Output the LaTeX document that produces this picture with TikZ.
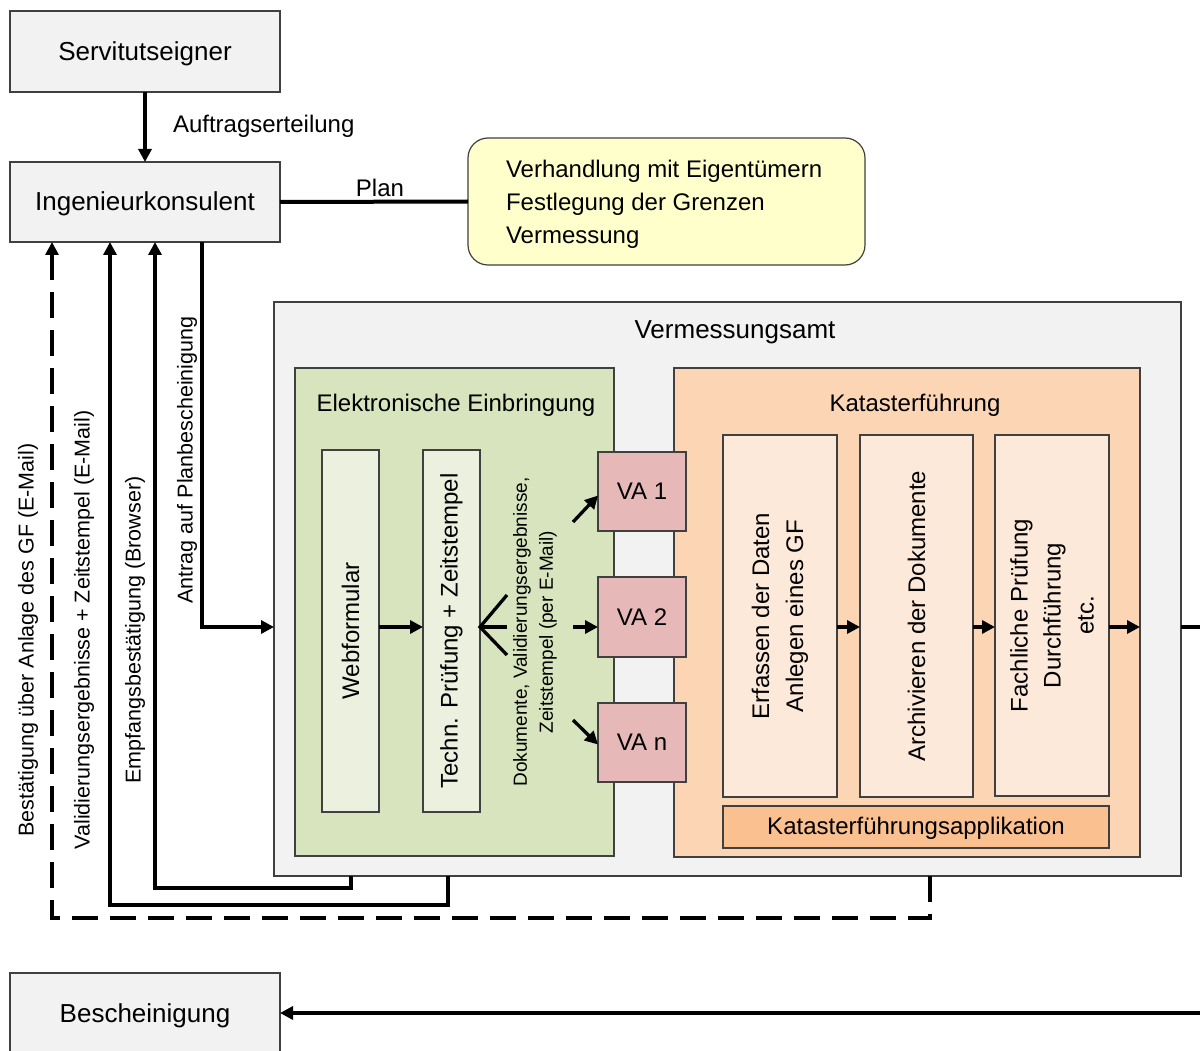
\documentclass[tikz,border=0pt]{standalone}
\usepackage{fontspec}
\setmainfont{Liberation Sans}
\usetikzlibrary{arrows.meta,calc}
\definecolor{bord}{HTML}{404040}
\definecolor{grayfill}{HTML}{F2F2F2}
\definecolor{yel}{HTML}{FFFFCC}
\definecolor{grn}{HTML}{D7E4BD}
\definecolor{grnl}{HTML}{EBF1DE}
\definecolor{org}{HTML}{FCD5B5}
\definecolor{orgl}{HTML}{FDE9D9}
\definecolor{orgd}{HTML}{FAC090}
\definecolor{vapink}{HTML}{E6B9B8}
\newcommand{\fsz}[2]{\fontsize{#1}{#2}\selectfont}
\begin{document}
\begin{tikzpicture}[x=1pt,y=-1pt,
  box/.style={draw=bord, line width=1.2pt, inner sep=0pt, outer sep=0pt, anchor=north west},
  lbl/.style={inner sep=0pt, outer sep=0pt, text=black},
  arr/.style={line width=3.3pt, -{Triangle[length=13pt,width=13pt]}},
  conn/.style={line width=3.3pt},
  dashline/.style={line width=3.3pt, dash pattern=on 26pt off 12pt},
  big/.style={font=\fsz{26}{31}},
  mid/.style={font=\fsz{24}{33}},
  vlab/.style={lbl, rotate=90, font=\fsz{21.5}{26}}
  ]
\useasboundingbox (0,0) rectangle (1200,1051);
\fill[white] (0,0) rectangle (1200,1051);

% top boxes
\node[box, fill=grayfill, minimum width=270pt, minimum height=81pt] (serv) at (10,11) {};
\node[lbl, big] at ($(serv.center)+(0,2.5)$) {Servitutseigner};
\node[box, fill=grayfill, minimum width=270pt, minimum height=80pt] (ing) at (10,162) {};
\node[lbl, big] at ($(ing.center)+(0,2)$) {Ingenieurkonsulent};
\node[box, fill=grayfill, minimum width=270pt, minimum height=90pt] (besch) at (10,973) {};
\node[lbl, big] at (145,1016) {Bescheinigung};

\draw[arr] (serv.south) -- (ing.north);
\node[lbl, anchor=west, mid] (auftr) at (173,126) {Auftragserteilung};

% yellow box
\node[box, fill=yel, rounded corners=20pt, minimum width=397pt, minimum height=127pt] (yb) at (468,138) {};
\node[lbl, anchor=west, align=left, mid] (ybt) at (506,204) {Verhandlung mit Eigentümern\\Festlegung der Grenzen\\Vermessung};
\draw[line width=4pt] (ing.east) -- (yb.west);
\node[lbl, anchor=base, mid] (plan) at (380,197) {Plan};

% Vermessungsamt
\node[box, fill=grayfill, minimum width=907pt, minimum height=574pt] (amt) at (274,302) {};
\node[lbl, big] (amtT) at (735,332) {Vermessungsamt};

% green
\node[box, fill=grn, minimum width=319pt, minimum height=488pt] (green) at (295,368) {};
\node[lbl, mid] (greenT) at (456,405) {Elektronische Einbringung};
\node[box, fill=grnl, minimum width=57pt, minimum height=362pt] (web) at (322,450) {};
\node[lbl, rotate=90, mid] at (web.center) {Webformular};
\node[box, fill=grnl, minimum width=57pt, minimum height=362pt] (tech) at (423,450) {};
\node[lbl, rotate=90, mid] at (tech.center) {Techn. Prüfung + Zeitstempel};

% orange
\node[box, fill=org, minimum width=466pt, minimum height=489pt] (org) at (674,368) {};
\node[lbl, mid] (orgT) at (915,405) {Katasterführung};
\node[box, fill=orgl, minimum width=114pt, minimum height=362pt] (erf) at (723,435) {};
\node[lbl, rotate=90, align=center, font=\fsz{24}{34}] at (erf.center) {Erfassen der Daten\\Anlegen eines GF};
\node[box, fill=orgl, minimum width=113pt, minimum height=362pt] (arc) at (860,435) {};
\node[lbl, rotate=90, mid] at (arc.center) {Archivieren der Dokumente};
\node[box, fill=orgl, minimum width=114pt, minimum height=361pt] (fach) at (995,435) {};
\node[lbl, rotate=90, align=center, mid] at (fach.center) {Fachliche Prüfung\\Durchführung\\etc.};
\node[box, fill=orgd, minimum width=386pt, minimum height=42pt] (kapp) at (723,806) {};
\node[lbl, mid] at ($(kapp.center)+(0,1.5)$) {Katasterführungsapplikation};

% VA boxes
\node[box, fill=vapink, minimum width=88pt, minimum height=79pt, mid] (va1) at (598,452) {VA 1};
\node[box, fill=vapink, minimum width=88pt, minimum height=80pt, mid] (va2) at (598,577) {VA 2};
\node[box, fill=vapink, minimum width=88pt, minimum height=79pt, mid] (van) at (598,703) {VA n};

\node[lbl, rotate=90, align=center, font=\fsz{19}{26}] (doktxt) at (535,632) {Dokumente, Validierungsergebnisse,\\Zeitstempel (per E-Mail)};

% helper coordinates
\coordinate (ay) at (0,627);
\coordinate (xA) at (202,0);
\coordinate (xE) at (155,0);
\coordinate (xV) at (110,0);
\coordinate (xB) at (52,0);
\coordinate (xe1) at (351,0);
\coordinate (xv1) at (448,0);
\coordinate (xb1) at (930,0);
\coordinate (yE) at (0,888);
\coordinate (yV) at (0,905);
\coordinate (yB) at (0,918);
\coordinate (rE) at (1200,627);
\coordinate (rB) at (1200,1013);

% inner arrows
\draw[arr] (web.east |- ay) -- (tech.west |- ay);
\coordinate (fk) at (tech.east |- ay);
\draw[conn] ($(fk)+(27,-32)$) -- (fk) -- ($(fk)+(27,28)$);
\draw[conn] (fk) -- ++(27,0);
\draw[arr] ($(va1.south west)+(-25,-9)$) -- ($(va1.west)+(0,4)$);
\draw[arr] ($(va2.west |- ay)+(-25,0)$) -- (va2.west |- ay);
\draw[arr] ($(van.north west)+(-25,17)$) -- ($(van.west)+(0,2)$);

\draw[arr] (erf.east |- ay) -- (arc.west |- ay);
\draw[arr] (arc.east |- ay) -- (fach.west |- ay);
\draw[arr] (fach.east |- ay) -- (org.east |- ay);
\draw[conn] (amt.east |- ay) -- (rE);
\draw[arr] (rB) -- (besch.east |- rB);

% feedback lines
\draw[arr] (ing.south -| xA) -- (xA |- ay) -- (amt.west |- ay);
\draw[arr] (amt.south -| xe1) -- (xe1 |- yE) -- (xE |- yE) -- (ing.south -| xE);
\draw[arr] (amt.south -| xv1) -- (xv1 |- yV) -- (xV |- yV) -- (ing.south -| xV);
\draw[arr, dashline] (amt.south -| xb1) -- (xb1 |- yB) -- (xB |- yB) -- (ing.south -| xB);

\node[vlab] at (28,640) {Bestätigung über Anlage des GF (E-Mail)};
\node[vlab] at (84,630) {Validierungsergebnisse + Zeitstempel (E-Mail)};
\node[vlab] at (135,630) {Empfangsbestätigung (Browser)};
\node[vlab] at (187,460) {Antrag auf Planbescheinigung};
\end{tikzpicture}
\end{document}
